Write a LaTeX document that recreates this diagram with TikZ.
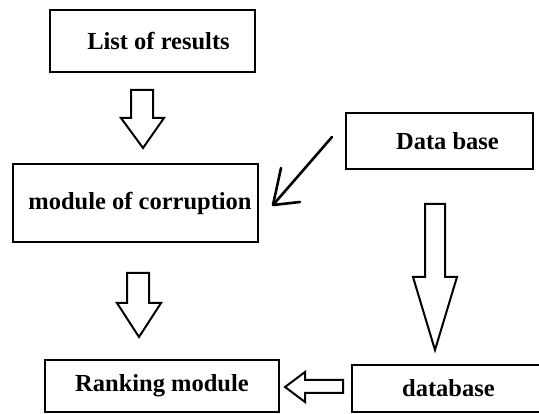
\documentclass[tikz,border=0pt]{standalone}
\usepackage{fontspec}
\setmainfont{Liberation Serif}
\begin{document}
\begin{tikzpicture}[x=1pt,y=-1pt,
  boxnode/.style={draw,line width=2.6pt,inner sep=0pt,font=\fontsize{24.5}{29}\selectfont\bfseries},
  blockarrow/.style={draw,line width=2pt,line join=miter},
  handline/.style={draw,line width=2.6pt,line cap=round,line join=round}]
\useasboundingbox (0,0) rectangle (539,414);
\begin{scope}
\clip (0,0) rectangle (539,414);
\node[boxnode,minimum width=205pt,minimum height=62pt] (lst) at (152.5,41) {\hspace{12pt}List of results};
\node[boxnode,minimum width=245pt,minimum height=78pt] (mod) at (135.5,203) {\hspace{9pt}module of corruption};
\node[boxnode,minimum width=187pt,minimum height=56pt] (dbase) at (439.5,141) {\hspace{16pt}Data base};
\node[boxnode,minimum width=234pt,minimum height=52pt] (rank) at (162,386) {Ranking module\hspace{15pt}};
\node[boxnode,minimum width=193pt,minimum height=47pt] (db) at (448.5,388.5) {database\hspace{4pt}};
\end{scope}
% block arrows
\draw[blockarrow] (131,90) -- (153,90) -- (153,118) -- (164,118) -- (143,148) -- (121,118) -- (131,118) -- cycle;
\draw[blockarrow] (127,273) -- (149,273) -- (149,303) -- (161,303) -- (139,337) -- (117,303) -- (127,303) -- cycle;
\draw[blockarrow] (425,204) -- (445,204) -- (445,277) -- (457,277) -- (435,350) -- (413,277) -- (425,277) -- cycle;
\draw[blockarrow] (343,380) -- (305,380) -- (305,372) -- (285,387) -- (305,402) -- (305,393) -- (343,393) -- cycle;
% hand-drawn arrow from Data base to module of corruption
\coordinate (hs) at (332,137);
\coordinate (ht) at (273,205);
\coordinate (h1) at (281,168);
\coordinate (h2) at (300,202);
\draw[handline] (hs) -- (ht);
\draw[handline] (h1) -- (ht) -- (h2);
\end{tikzpicture}
\end{document}
